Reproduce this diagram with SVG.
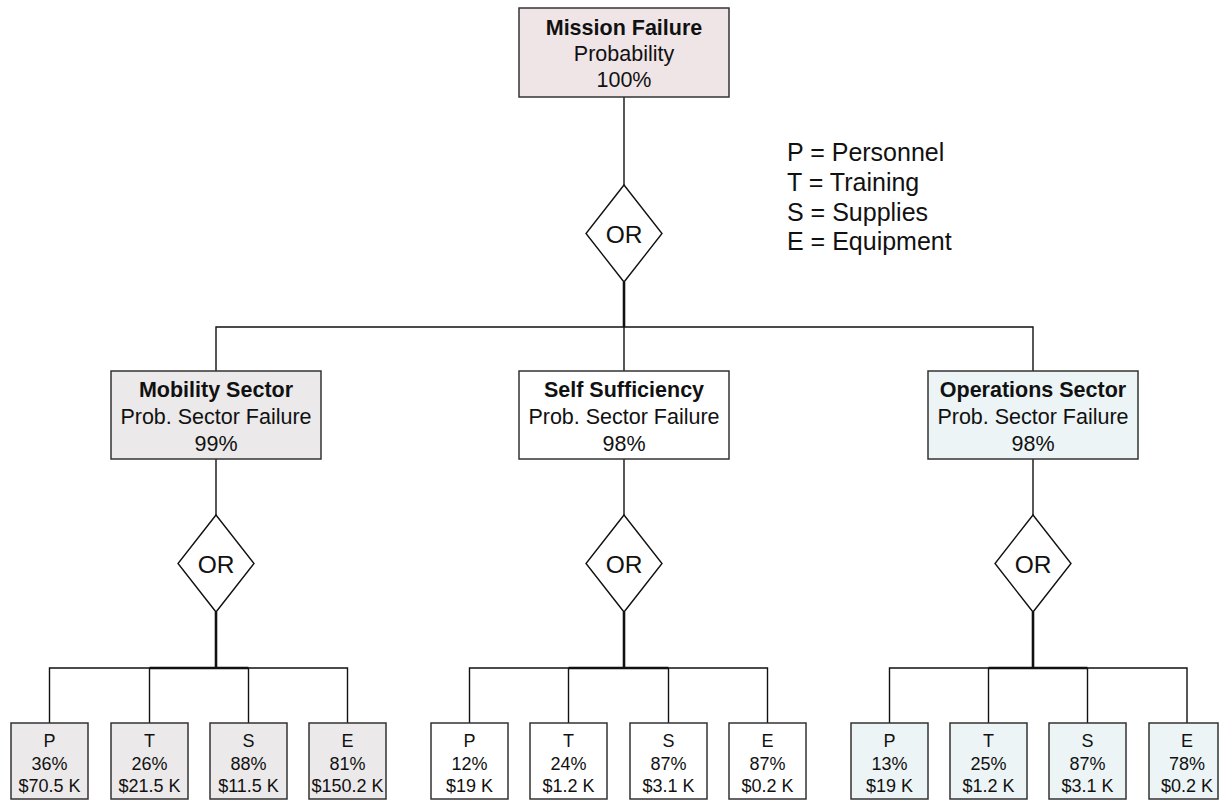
<svg xmlns="http://www.w3.org/2000/svg" width="1219" height="801" viewBox="0 0 1219 801">
  <style>
    text { font-family: "Liberation Sans", Arial, sans-serif; fill: #111; text-anchor: middle; }
    .box { stroke: #333; stroke-width: 1.5; }
    .top { fill: #efe5e7; }
    .mob { fill: #ebe9ea; }
    .self { fill: #ffffff; }
    .ops { fill: #ecf4f5; }
    .gate { fill: #ffffff; stroke: #111; stroke-width: 1.4; }
    .ln { fill: none; stroke: #111; stroke-width: 1.4; }
    .thick { fill: none; stroke: #111; stroke-width: 2.6; }
    .h { font-size: 21.5px; font-weight: bold; }
    .n { font-size: 21.5px; }
    .or { font-size: 24.5px; }
    .leaf { font-size: 18px; }
    .legend { font-size: 25px; text-anchor: start; }
  </style>

  <!-- connectors -->
  <g id="connectors">
    <!-- root to first gate -->
    <line class="ln" x1="624" y1="97" x2="624" y2="185"/>
    <line class="thick" x1="624" y1="282" x2="624" y2="327"/>
    <polyline class="ln" points="216,371 216,327 1033,327 1033,371"/>
    <line class="ln" x1="624" y1="327" x2="624" y2="371"/>

    <!-- sectors to gates -->
    <line class="ln" x1="216" y1="459" x2="216" y2="515"/>
    <line class="ln" x1="624" y1="459" x2="624" y2="515"/>
    <line class="ln" x1="1033" y1="459" x2="1033" y2="515"/>

    <!-- mobility gate to leaves -->
    <line class="thick" x1="216" y1="612" x2="216" y2="668"/>
    <polyline class="ln" points="49.5,723 49.5,668 347.5,668 347.5,723"/>
    <line class="thick" x1="149.5" y1="668" x2="248.5" y2="668"/>
    <line class="ln" x1="149.5" y1="668" x2="149.5" y2="723"/>
    <line class="ln" x1="248.5" y1="668" x2="248.5" y2="723"/>

    <!-- self sufficiency gate to leaves -->
    <line class="thick" x1="624" y1="612" x2="624" y2="668"/>
    <polyline class="ln" points="469.5,723 469.5,668 767.5,668 767.5,723"/>
    <line class="thick" x1="568.5" y1="668" x2="668.5" y2="668"/>
    <line class="ln" x1="568.5" y1="668" x2="568.5" y2="723"/>
    <line class="ln" x1="668.5" y1="668" x2="668.5" y2="723"/>

    <!-- operations gate to leaves -->
    <line class="thick" x1="1033" y1="612" x2="1033" y2="668"/>
    <polyline class="ln" points="889.5,723 889.5,668 1187,668 1187,723"/>
    <line class="thick" x1="988.5" y1="668" x2="1087.5" y2="668"/>
    <line class="ln" x1="988.5" y1="668" x2="988.5" y2="723"/>
    <line class="ln" x1="1087.5" y1="668" x2="1087.5" y2="723"/>
  </g>

  <!-- root event -->
  <g id="mission-failure">
    <rect class="box top" x="519" y="8" width="210" height="89"/>
    <text class="h" x="624" y="35">Mission Failure</text>
    <text class="n" x="624" y="61">Probability</text>
    <text class="n" x="624" y="87">100%</text>
  </g>

  <g id="gate-root">
    <polygon class="gate" points="624,185 662,233.5 624,282 586,233.5"/>
    <text class="or" x="624" y="242.5">OR</text>
  </g>

  <!-- legend -->
  <g id="legend">
    <text class="legend" x="787" y="161">P = Personnel</text>
    <text class="legend" x="787" y="191">T = Training</text>
    <text class="legend" x="787" y="221">S = Supplies</text>
    <text class="legend" x="787" y="250">E = Equipment</text>
  </g>

  <!-- sectors -->
  <g id="mobility-sector">
    <rect class="box mob" x="111" y="371" width="210" height="88"/>
    <text class="h" x="216" y="397">Mobility Sector</text>
    <text class="n" x="216" y="424">Prob. Sector Failure</text>
    <text class="n" x="216" y="451">99%</text>
  </g>
  <g id="self-sufficiency">
    <rect class="box self" x="519" y="371" width="210" height="88"/>
    <text class="h" x="624" y="397">Self Sufficiency</text>
    <text class="n" x="624" y="424">Prob. Sector Failure</text>
    <text class="n" x="624" y="451">98%</text>
  </g>
  <g id="operations-sector">
    <rect class="box ops" x="928" y="371" width="210" height="88"/>
    <text class="h" x="1033" y="397">Operations Sector</text>
    <text class="n" x="1033" y="424">Prob. Sector Failure</text>
    <text class="n" x="1033" y="451">98%</text>
  </g>

  <!-- sector gates -->
  <g id="gate-mobility">
    <polygon class="gate" points="216,515 254,563.5 216,612 178,563.5"/>
    <text class="or" x="216" y="572.5">OR</text>
  </g>
  <g id="gate-self">
    <polygon class="gate" points="624,515 662,563.5 624,612 586,563.5"/>
    <text class="or" x="624" y="572.5">OR</text>
  </g>
  <g id="gate-operations">
    <polygon class="gate" points="1033,515 1071,563.5 1033,612 995,563.5"/>
    <text class="or" x="1033" y="572.5">OR</text>
  </g>

  <!-- mobility leaves -->
  <g id="mob-p">
    <rect class="box mob" x="11" y="723" width="77" height="76"/>
    <text class="leaf" x="49.5" y="747">P</text><text class="leaf" x="49.5" y="770">36%</text><text class="leaf" x="49.5" y="792">$70.5 K</text>
  </g>
  <g id="mob-t">
    <rect class="box mob" x="111" y="723" width="77" height="76"/>
    <text class="leaf" x="149.5" y="747">T</text><text class="leaf" x="149.5" y="770">26%</text><text class="leaf" x="149.5" y="792">$21.5 K</text>
  </g>
  <g id="mob-s">
    <rect class="box mob" x="210" y="723" width="77" height="76"/>
    <text class="leaf" x="248.5" y="747">S</text><text class="leaf" x="248.5" y="770">88%</text><text class="leaf" x="248.5" y="792">$11.5 K</text>
  </g>
  <g id="mob-e">
    <rect class="box mob" x="309" y="723" width="77" height="76"/>
    <text class="leaf" x="347.5" y="747">E</text><text class="leaf" x="347.5" y="770">81%</text><text class="leaf" x="347.5" y="792">$150.2 K</text>
  </g>

  <!-- self sufficiency leaves -->
  <g id="self-p">
    <rect class="box self" x="431" y="723" width="77" height="76"/>
    <text class="leaf" x="469.5" y="747">P</text><text class="leaf" x="469.5" y="770">12%</text><text class="leaf" x="469.5" y="792">$19 K</text>
  </g>
  <g id="self-t">
    <rect class="box self" x="530" y="723" width="77" height="76"/>
    <text class="leaf" x="568.5" y="747">T</text><text class="leaf" x="568.5" y="770">24%</text><text class="leaf" x="568.5" y="792">$1.2 K</text>
  </g>
  <g id="self-s">
    <rect class="box self" x="630" y="723" width="77" height="76"/>
    <text class="leaf" x="668.5" y="747">S</text><text class="leaf" x="668.5" y="770">87%</text><text class="leaf" x="668.5" y="792">$3.1 K</text>
  </g>
  <g id="self-e">
    <rect class="box self" x="729" y="723" width="77" height="76"/>
    <text class="leaf" x="767.5" y="747">E</text><text class="leaf" x="767.5" y="770">87%</text><text class="leaf" x="767.5" y="792">$0.2 K</text>
  </g>

  <!-- operations leaves -->
  <g id="ops-p">
    <rect class="box ops" x="851" y="723" width="77" height="76"/>
    <text class="leaf" x="889.5" y="747">P</text><text class="leaf" x="889.5" y="770">13%</text><text class="leaf" x="889.5" y="792">$19 K</text>
  </g>
  <g id="ops-t">
    <rect class="box ops" x="950" y="723" width="77" height="76"/>
    <text class="leaf" x="988.5" y="747">T</text><text class="leaf" x="988.5" y="770">25%</text><text class="leaf" x="988.5" y="792">$1.2 K</text>
  </g>
  <g id="ops-s">
    <rect class="box ops" x="1049" y="723" width="77" height="76"/>
    <text class="leaf" x="1087.5" y="747">S</text><text class="leaf" x="1087.5" y="770">87%</text><text class="leaf" x="1087.5" y="792">$3.1 K</text>
  </g>
  <g id="ops-e">
    <rect class="box ops" x="1149" y="723" width="69" height="76"/>
    <text class="leaf" x="1187" y="747">E</text><text class="leaf" x="1187" y="770">78%</text><text class="leaf" x="1187" y="792">$0.2 K</text>
  </g>
</svg>
